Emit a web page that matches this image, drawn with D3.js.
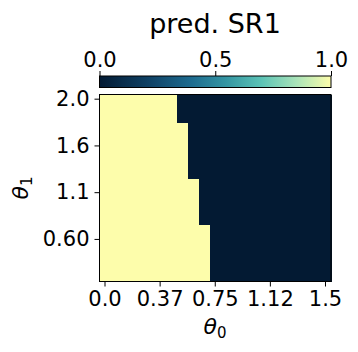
<!DOCTYPE html>
<html>
<head>
<meta charset="utf-8">
<script src="https://cdn.jsdelivr.net/npm/d3@7"></script>
<style>
  body { margin: 0; background: #fff; }
  text { font-family: "DejaVu Sans", sans-serif; fill: #000; }
</style>
</head>
<body>
<svg id="chart" width="358" height="352"></svg>
<script>
/******************** data ********************/
var theta0 = [0.0, 0.075, 0.15, 0.225, 0.3, 0.375, 0.45, 0.525, 0.6, 0.675, 0.75,
              0.825, 0.9, 0.975, 1.05, 1.125, 1.2, 1.275, 1.35, 1.425, 1.5];
var theta1 = [2.0, 1.91, 1.82, 1.73, 1.64, 1.55, 1.46, 1.37, 1.28, 1.19,
              1.1, 1.01, 0.92, 0.83, 0.74, 0.65, 0.56, 0.47, 0.38, 0.29];
// one string per theta1 row (top to bottom), one char per theta0 column
var predSR1 = [
  "111111100000000000000",
  "111111100000000000000",
  "111111100000000000000",
  "111111110000000000000",
  "111111110000000000000",
  "111111110000000000000",
  "111111110000000000000",
  "111111110000000000000",
  "111111110000000000000",
  "111111111000000000000",
  "111111111000000000000",
  "111111111000000000000",
  "111111111000000000000",
  "111111111000000000000",
  "111111111100000000000",
  "111111111100000000000",
  "111111111100000000000",
  "111111111100000000000",
  "111111111100000000000",
  "111111111100000000000"
];
var xTickValues = [0.0, 0.375, 0.75, 1.125, 1.5];
var xTickLabels = ["0.0", "0.37", "0.75", "1.12", "1.5"];
var yTickValues = [2.0, 1.55, 1.1, 0.65];
var yTickLabels = ["2.0", "1.6", "1.1", "0.60"];
var cbarTicks = [0.0, 0.5, 1.0];

/******************** colour map ********************/
var cmapStops = [
  [0.0, "#031a33"], [0.2, "#0f3f62"], [0.4, "#1e6c90"], [0.55, "#3596a3"],
  [0.7, "#5cc3b6"], [0.85, "#a9e3b9"], [1.0, "#fdfdab"]
];
var cmap = d3.scaleLinear()
  .domain(cmapStops.map(function(d){ return d[0]; }))
  .range(cmapStops.map(function(d){ return d[1]; }))
  .interpolate(d3.interpolateRgb);

var svg = d3.select('#chart');
var plotLeft = 99.5, plotRight = 331, plotTop = 94.5, plotBottom = 281.5;

/******************** heatmap ********************/
var x = d3.scaleBand().domain(theta0).range([plotLeft, plotRight]);
var y = d3.scaleBand().domain(theta1).range([plotTop, plotBottom]);

var cells = [];
predSR1.forEach(function(row, i){
  row.split('').forEach(function(c, j){
    cells.push({ t0: theta0[j], t1: theta1[i], v: +c });
  });
});

svg.append('g').selectAll('rect').data(cells).enter().append('rect')
  .attr('x', function(d){ return x(d.t0); })
  .attr('y', function(d){ return y(d.t1); })
  .attr('width', x.bandwidth() + 0.5)
  .attr('height', y.bandwidth() + 0.5)
  .attr('fill', function(d){ return cmap(d.v); })
  .attr('shape-rendering', 'crispEdges');

svg.append('rect')
  .attr('x', plotLeft).attr('y', plotTop)
  .attr('width', plotRight - plotLeft).attr('height', plotBottom - plotTop)
  .attr('fill', 'none').attr('stroke', '#000').attr('stroke-width', 1);

var xAxis = svg.append('g')
  .attr('transform', 'translate(0,' + plotBottom + ')')
  .call(d3.axisBottom(x).tickValues(xTickValues)
    .tickFormat(function(d, i){ return xTickLabels[i]; })
    .tickSize(5).tickPadding(5));

var yAxis = svg.append('g')
  .attr('transform', 'translate(' + plotLeft + ',0)')
  .call(d3.axisLeft(y).tickValues(yTickValues)
    .tickFormat(function(d, i){ return yTickLabels[i]; })
    .tickSize(5).tickPadding(5));

/******************** colorbar ********************/
var cbTop = 76, cbBottom = 87.5;
var grad = svg.append('defs').append('linearGradient').attr('id', 'cbgrad');
d3.range(0, 1.0001, 0.05).forEach(function(t){
  grad.append('stop').attr('offset', t).attr('stop-color', cmap(t));
});
svg.append('rect')
  .attr('x', plotLeft).attr('y', cbTop)
  .attr('width', plotRight - plotLeft).attr('height', cbBottom - cbTop)
  .attr('fill', 'url(#cbgrad)').attr('stroke', '#000').attr('stroke-width', 1);

var cb = d3.scaleLinear().domain([0, 1]).range([plotLeft, plotRight]);
var cbAxis = svg.append('g')
  .attr('transform', 'translate(0,' + cbTop + ')')
  .call(d3.axisTop(cb).tickValues(cbarTicks).tickFormat(d3.format('.1f'))
    .tickSize(5).tickPadding(4));

[xAxis, yAxis, cbAxis].forEach(function(g){
  g.select('.domain').remove();
  g.selectAll('.tick line').attr('stroke', '#000').attr('stroke-width', 1);
  g.selectAll('.tick text').style('font-size', '21px').attr('fill', '#000');
});

/******************** titles ********************/
svg.append('text')
  .attr('x', 215).attr('y', 33)
  .attr('text-anchor', 'middle')
  .style('font-size', '27px')
  .text('pred. SR1');

var xl = svg.append('text')
  .attr('x', 215).attr('y', 334)
  .attr('text-anchor', 'middle')
  .style('font-size', '22px');
xl.append('tspan').style('font-style', 'italic').text('θ');
xl.append('tspan').attr('dy', 4).style('font-size', '15px').text('0');

var yl = svg.append('text')
  .attr('transform', 'translate(28,188) rotate(-90)')
  .attr('text-anchor', 'middle')
  .style('font-size', '22px');
yl.append('tspan').style('font-style', 'italic').text('θ');
yl.append('tspan').attr('dy', 4).style('font-size', '15px').text('1');
</script>
</body>
</html>
